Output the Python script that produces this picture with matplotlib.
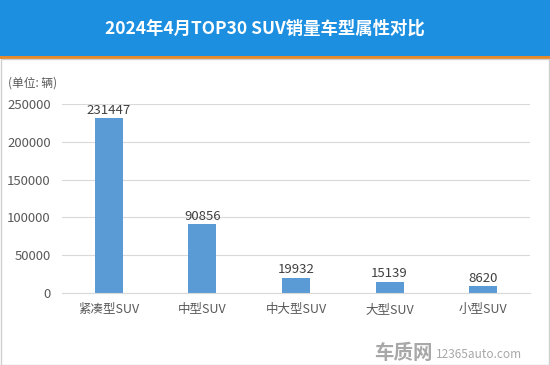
import matplotlib.pyplot as plt
from matplotlib.patches import Rectangle

plt.rcParams['font.family'] = ['Noto Sans CJK SC', 'DejaVu Sans']

CATEGORIES = ["紧凑型SUV", "中型SUV", "中大型SUV", "大型SUV", "小型SUV"]
SALES = [231447, 90856, 19932, 15139, 8620]
YTICKS = [0, 50000, 100000, 150000, 200000, 250000]

TITLE = "2024年4月TOP30 SUV销量车型属性对比"

W, H = 550, 365
fig = plt.figure(figsize=(W / 100, H / 100), dpi=100)

# header band + orange rule
fig.patches.append(Rectangle((0, 1 - 56 / H), 1, 56 / H, transform=fig.transFigure,
                             facecolor="#1C8FE1", edgecolor="none", zorder=0))
fig.patches.append(Rectangle((0, 1 - 59 / H), 1, 3 / H, transform=fig.transFigure,
                             facecolor="#E58A2C", edgecolor="none", zorder=0))
# light border round the body
fig.patches.append(Rectangle((0.5 / W, 0.5 / H), 1 - 1.5 / W, 1 - 59 / H - 0.5 / H,
                             transform=fig.transFigure, facecolor="none",
                             edgecolor="#D0D0D0", linewidth=1, zorder=1))

fig.text(0.482, 1 - 29 / H, TITLE, color="white", fontsize=12.5, fontweight="bold",
         ha="center", va="center")

ax = fig.add_axes([62 / W, 1 - 293 / H, 468 / W, (293 - 104) / H])
x = range(len(CATEGORIES))
ax.bar(x, SALES, width=0.3, color="#5B9BD5", zorder=2)
for xi, v in zip(x, SALES):
    ax.text(xi, v + 2000, str(v), ha="center", va="bottom", fontsize=9.5, color="#404040")

ax.set_xlim(-0.5, len(CATEGORIES) - 0.5)
ax.set_ylim(0, 250000)
ax.set_yticks(YTICKS)
ax.set_yticklabels([str(t) for t in YTICKS])
ax.set_xticks(list(x))
ax.set_xticklabels(CATEGORIES)
ax.tick_params(axis="both", length=0, colors="#595959")
ax.tick_params(axis="y", labelsize=9.5, pad=8)
ax.tick_params(axis="x", labelsize=9, pad=7)
ax.yaxis.grid(True, color="#D9D9D9", linewidth=0.8, zorder=0)
for s in ["top", "right", "left"]:
    ax.spines[s].set_visible(False)
ax.spines["bottom"].set_color("#D9D9D9")

fig.text(8 / W, 1 - 83 / H, "(单位: 辆)", fontsize=8.5, color="#595959", va="center")

# watermark
fig.text(433 / W, 1 - 353 / H, "车质网", fontsize=14, fontweight="bold", color="#A8A8A8",
         ha="right", va="center")
fig.text(436 / W, 1 - 355 / H, "12365auto.com", fontsize=8.5, color="#A8A8A8",
         ha="left", va="center")

fig.savefig("out.png", dpi=100)
